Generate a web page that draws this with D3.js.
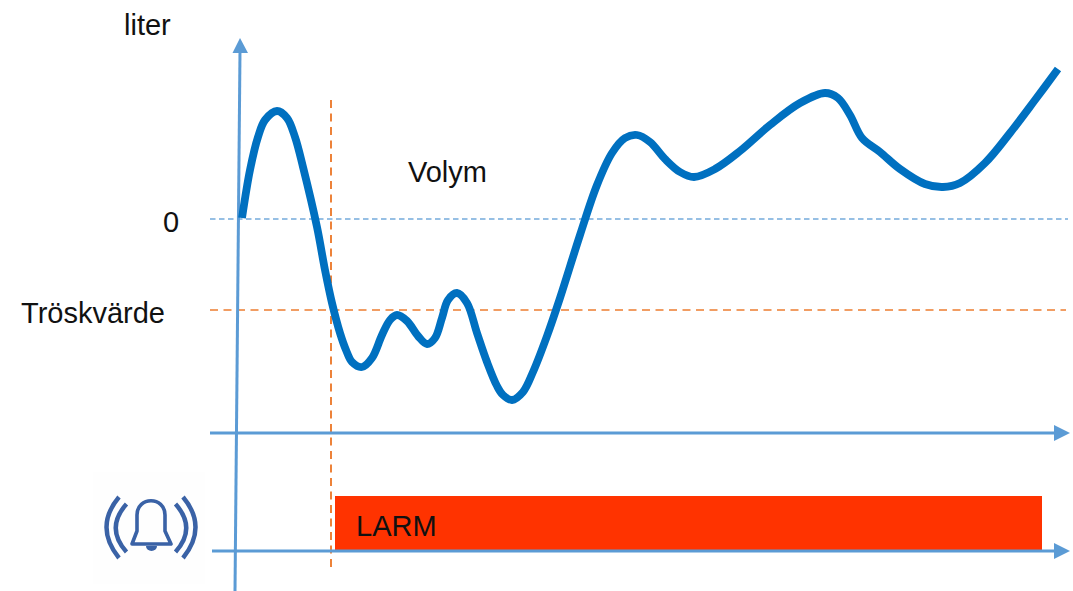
<!DOCTYPE html>
<html><head><meta charset="utf-8">
<script src="https://cdn.jsdelivr.net/npm/d3@7"></script>
<style>html,body{margin:0;padding:0;background:#fff;overflow:hidden}svg{display:block}text{font-family:"Liberation Sans",Arial,sans-serif;fill:#111}</style>
</head><body><svg id="c" width="1073" height="591"></svg>
<script>
// time in horizontal units, volume in vertical units relative to the zero level
const time=[242,250,258,265,277,287,295,303,317,325,332,340,346,352,362,372,382,390,397,407,418,427,435,442,448,457,467,477,487,497,503,512,523,533,547,560,580,597,612,625,637,650,665,680,694,715,740,770,800,825,838,850,862,880,900,925,943,960,985,1010,1035,1058];
const volume=[1,49,82,99,108,101,82,52,-8,-51,-84,-114,-131,-143,-148,-139,-116,-101,-96,-102,-117,-125,-119,-99,-81,-74,-84,-114,-143,-167,-176,-181,-173,-153,-117,-79,-16,34,66,81,84,77,60,47,42,50,68,94,116,126,121,104,81,67,50,35,32,36,56,86,119,150];
const zeroLevel=0, threshold=-91, volumeBase=-214, alarmBase=-332;
const alarmStart=335, alarmEnd=1042, alarmHeight=55, alarmTrigger=331;
const labels={unit:"liter",zero:"0",threshold:"Tröskvärde",series:"Volym",alarm:"LARM"};

const x=d3.scaleLinear().domain([0,1073]).range([0,1073]);
const y=d3.scaleLinear().domain([219,-372]).range([0,591]);
const svg=d3.select("#c");
const blue="#5b9bd5", orange="#ed7d31";

// alarm bar
svg.append("rect").attr("x",x(alarmStart)).attr("y",y(alarmBase+alarmHeight))
  .attr("width",x(alarmEnd)-x(alarmStart)).attr("height",y(alarmBase)-y(alarmBase+alarmHeight)).attr("fill","#ff3300");

// reference lines
svg.append("line").attr("x1",x(210)).attr("x2",x(1068)).attr("y1",y(zeroLevel)).attr("y2",y(zeroLevel))
  .attr("stroke",blue).attr("stroke-opacity",.85).attr("stroke-width",1.3).attr("stroke-dasharray","5.5 3.5");
svg.append("line").attr("x1",x(210)).attr("x2",x(1066)).attr("y1",y(threshold)).attr("y2",y(threshold))
  .attr("stroke",orange).attr("stroke-width",1.7).attr("stroke-dasharray","8 5.5");
svg.append("line").attr("x1",x(alarmTrigger)).attr("x2",x(alarmTrigger)).attr("y1",y(119)).attr("y2",y(-349))
  .attr("stroke",orange).attr("stroke-width",1.9).attr("stroke-dasharray","8 5.5");

// horizontal axes
[[volumeBase,210],[alarmBase,212]].forEach(([v,x0])=>{
  svg.append("line").attr("x1",x(x0)).attr("x2",x(1056)).attr("y1",y(v)).attr("y2",y(v)).attr("stroke",blue).attr("stroke-width",3);
  svg.append("path").attr("fill",blue).attr("d",d3.line()([[x(1054),y(v)-8],[x(1070),y(v)],[x(1054),y(v)+8]])+"Z");
});
// vertical axis
svg.append("line").attr("x1",x(235)).attr("x2",x(240)).attr("y1",y(-372)).attr("y2",y(168)).attr("stroke",blue).attr("stroke-width",3);
svg.append("path").attr("fill",blue).attr("d",d3.line()([[x(232.5),y(166)],[x(240),y(181)],[x(248),y(166)]])+"Z");

// volume curve
svg.append("path").datum(time.map((t,i)=>[t,volume[i]]))
  .attr("fill","none").attr("stroke","#0070c0").attr("stroke-width",7.8).attr("stroke-linejoin","round")
  .attr("d",d3.line().x(d=>x(d[0])).y(d=>y(d[1])).curve(d3.curveCatmullRom));

// texts
const T=(s,px,py)=>svg.append("text").attr("x",px).attr("y",py).attr("font-size",29).text(s);
T(labels.unit,124,35);T(labels.zero,163,232);T(labels.threshold,21,323);T(labels.series,408,182);T(labels.alarm,356,536);

// bell icon
const g=svg.append("g").attr("fill","none").attr("stroke","#3a62a6").attr("stroke-width",4.4);
svg.insert("rect","rect").attr("x",93).attr("y",472).attr("width",112).attr("height",112).attr("fill","#fefefe");
g.append("path").attr("d","M119,497Q94,527 119,558");
g.append("path").attr("d","M126.5,504Q105,528 126.5,552");
g.append("path").attr("d","M183,497Q208,527 183,558");
g.append("path").attr("d","M175.5,504Q197,528 175.5,552");
g.append("path").attr("stroke-width",3.6).attr("stroke-linejoin","round").attr("d","M132,544L137,531V515C137,496 165,496 165,515V531L171,544Z");
g.append("path").attr("fill","#3a62a6").attr("stroke","none").attr("d","M146,546A5.5,5 0 0 0 157,546Z");
</script></body></html>
